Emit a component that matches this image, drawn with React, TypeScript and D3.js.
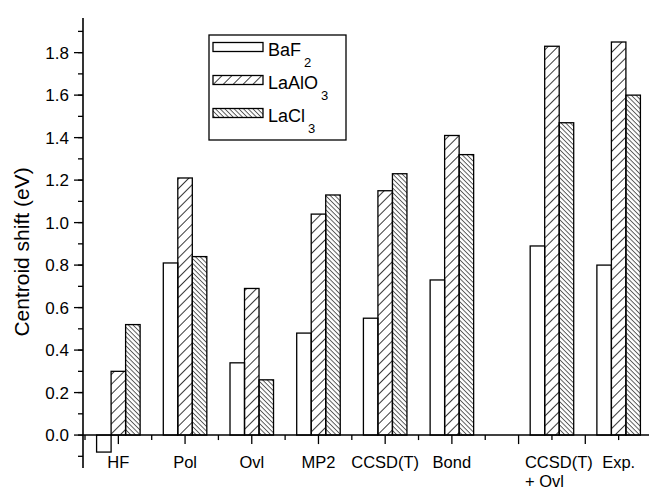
import React from 'react';
import * as d3 from 'd3';

// categories (x positions follow the original numeric axis: gap before the last two groups)
const categories = ['HF', 'Pol', 'Ovl', 'MP2', 'CCSD(T)', 'Bond', 'CCSD(T)\n+ Ovl', 'Exp.'];
const positions = [1, 2, 3, 4, 5, 6, 7.5, 8.5];

const baF2 = [-0.08, 0.81, 0.34, 0.48, 0.55, 0.73, 0.89, 0.8];
const laAlO3 = [0.3, 1.21, 0.69, 1.04, 1.15, 1.41, 1.83, 1.85];
const laCl3 = [0.52, 0.84, 0.26, 1.13, 1.23, 1.32, 1.47, 1.6];

const yTicks = [0, 0.2, 0.4, 0.6, 0.8, 1.0, 1.2, 1.4, 1.6, 1.8];

const series = [
  { name: 'BaF', sub: '2', values: baF2, fill: 'white' },
  { name: 'LaAlO', sub: '3', values: laAlO3, fill: 'url(#hatchFwd)' },
  { name: 'LaCl', sub: '3', values: laCl3, fill: 'url(#hatchBack)' },
];

const W = 649;
const H = 489;
const font = '"Liberation Sans", Arial, sans-serif';

const App = () => {
  const x = d3.scaleLinear().domain([0.47, 9]).range([83, 652]);
  const y = d3.scaleLinear().domain([-0.155, 1.963]).range([468, 18]);
  const barW = 0.2175; // in x units
  const y0 = y(0);

  const minorY = d3.range(-1, 20).map((d) => d / 10);
  const xTicks = d3.range(1, 19).map((d) => d / 2);

  return (
    <svg
      width={W}
      height={H}
      style={{ position: 'absolute', left: 0, top: 0, background: 'white' }}
      fontFamily={font}
    >
      <defs>
        <pattern id="hatchFwd" patternUnits="userSpaceOnUse" width={20} height={7} patternTransform="rotate(-45)">
          <line x1={0} x2={20} y1={0.5} y2={0.5} stroke="#222" strokeWidth={0.9} />
        </pattern>
        <pattern id="hatchBack" patternUnits="userSpaceOnUse" width={20} height={3.3} patternTransform="rotate(45)">
          <line x1={0} x2={20} y1={0.5} y2={0.5} stroke="#222" strokeWidth={0.8} />
        </pattern>
      </defs>

      {/* bars */}
      {series.map((s, i) =>
        s.values.map((v, j) => {
          const left = x(positions[j] + (i - 1.5) * barW);
          const right = x(positions[j] + (i - 0.5) * barW);
          return (
            <rect
              key={`${i}-${j}`}
              x={left}
              y={Math.min(y(v), y0)}
              width={right - left}
              height={Math.abs(y(v) - y0)}
              fill={s.fill}
              stroke="#000"
              strokeWidth={1.3}
            />
          );
        })
      )}

      {/* y axis */}
      <line x1={83} x2={83} y1={y.range()[1]} y2={y.range()[0]} stroke="#000" strokeWidth={1.6} />
      {minorY.map((t) => (
        <line key={`my${t}`} x1={78} x2={83} y1={y(t)} y2={y(t)} stroke="#000" strokeWidth={1.3} />
      ))}
      {yTicks.map((t) => (
        <g key={`y${t}`}>
          <line x1={74} x2={83} y1={y(t)} y2={y(t)} stroke="#000" strokeWidth={1.3} />
          <text x={69} y={y(t) + 6} textAnchor="end" fontSize={17}>
            {d3.format('.1f')(t)}
          </text>
        </g>
      ))}
      <text
        transform={`translate(29,252) rotate(-90)`}
        textAnchor="middle"
        fontSize={21}
      >
        Centroid shift (eV)
      </text>

      {/* x axis */}
      <line x1={83} x2={W} y1={y0} y2={y0} stroke="#000" strokeWidth={1.6} />
      {xTicks.map((t) => (
        <line
          key={`x${t}`}
          x1={x(t)}
          x2={x(t)}
          y1={y0}
          y2={y0 + (Number.isInteger(t) ? 9 : 5)}
          stroke="#000"
          strokeWidth={1.3}
        />
      ))}
      {categories.map((c, j) => {
        const lines = c.split('\n');
        if (lines.length === 1) {
          return (
            <text key={c} x={x(positions[j])} y={468} textAnchor="middle" fontSize={16.5}>
              {c}
            </text>
          );
        }
        return (
          <text key={c} x={x(positions[j]) - 27} y={468} fontSize={16.5}>
            <tspan x={x(positions[j]) - 27}>{lines[0]}</tspan>
            <tspan x={x(positions[j]) - 27} dy={19}>{lines[1]}</tspan>
          </text>
        );
      })}

      {/* legend */}
      <rect x={209} y={35} width={137} height={105} fill="white" stroke="#000" strokeWidth={1.3} />
      {series.map((s, i) => {
        const ry = 42.5 + i * 33;
        return (
          <g key={s.name}>
            <rect x={213} y={ry} width={50} height={9} fill={s.fill} stroke="#000" strokeWidth={1.3} />
            <text x={268} y={ry + 13} fontSize={18}>
              {s.name}
              <tspan fontSize={13} dx={3} dy={11}>
                {s.sub}
              </tspan>
            </text>
          </g>
        );
      })}
    </svg>
  );
};

export default App;
